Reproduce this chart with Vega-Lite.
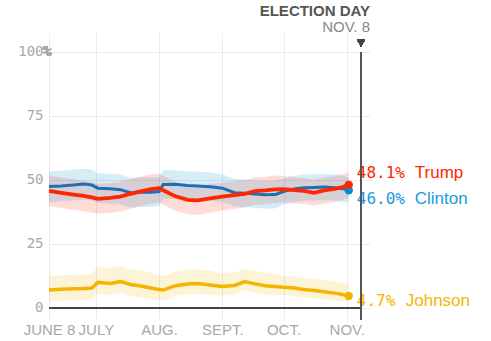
{
  "$schema": "https://vega.github.io/schema/vega-lite/v6.json",
  "autosize": "none",
  "padding": {"left": 49, "top": 33, "right": 121, "bottom": 21},
  "width": 321,
  "height": 287,
  "background": "white",
  "title": {
    "text": "ELECTION DAY",
    "subtitle": "NOV. 8",
    "anchor": "end",
    "frame": "group",
    "orient": "top",
    "offset": -2,
    "font": "Liberation Sans",
    "fontSize": 15,
    "fontWeight": "bold",
    "color": "#555555",
    "subtitleFont": "Liberation Sans",
    "subtitleFontSize": 15,
    "subtitleColor": "#888888",
    "subtitlePadding": 1
  },
  "config": {"view": {"stroke": null}},
  "data": {
    "format": {"parse": {"d": "date:'%Y-%m-%d'"}},
    "values": [
      {"d":"2016-06-08","c":"Trump","v":45.7,"lo":39.7,"hi":51.7},
      {"d":"2016-06-14","c":"Trump","v":45.0,"lo":39.0,"hi":51.0},
      {"d":"2016-06-20","c":"Trump","v":44.3,"lo":38.3,"hi":50.3},
      {"d":"2016-06-25","c":"Trump","v":43.8,"lo":37.8,"hi":49.8},
      {"d":"2016-06-29","c":"Trump","v":43.2,"lo":37.2,"hi":49.2},
      {"d":"2016-07-02","c":"Trump","v":42.6,"lo":36.8,"hi":48.4},
      {"d":"2016-07-08","c":"Trump","v":43.0,"lo":37.2,"hi":48.8},
      {"d":"2016-07-13","c":"Trump","v":43.5,"lo":37.7,"hi":49.3},
      {"d":"2016-07-18","c":"Trump","v":44.6,"lo":38.8,"hi":50.4},
      {"d":"2016-07-23","c":"Trump","v":45.5,"lo":39.7,"hi":51.3},
      {"d":"2016-07-28","c":"Trump","v":46.4,"lo":40.6,"hi":52.2},
      {"d":"2016-08-01","c":"Trump","v":46.8,"lo":41.2,"hi":52.4},
      {"d":"2016-08-03","c":"Trump","v":46.0,"lo":40.4,"hi":51.6},
      {"d":"2016-08-09","c":"Trump","v":43.6,"lo":38.0,"hi":49.2},
      {"d":"2016-08-15","c":"Trump","v":42.2,"lo":36.6,"hi":47.8},
      {"d":"2016-08-20","c":"Trump","v":42.0,"lo":36.4,"hi":47.6},
      {"d":"2016-08-26","c":"Trump","v":42.8,"lo":37.2,"hi":48.4},
      {"d":"2016-09-01","c":"Trump","v":43.5,"lo":38.1,"hi":48.9},
      {"d":"2016-09-07","c":"Trump","v":44.1,"lo":38.7,"hi":49.5},
      {"d":"2016-09-12","c":"Trump","v":44.6,"lo":39.2,"hi":50.0},
      {"d":"2016-09-17","c":"Trump","v":45.6,"lo":40.2,"hi":51.0},
      {"d":"2016-09-22","c":"Trump","v":45.9,"lo":40.5,"hi":51.3},
      {"d":"2016-09-27","c":"Trump","v":46.3,"lo":40.9,"hi":51.7},
      {"d":"2016-10-01","c":"Trump","v":46.4,"lo":41.3,"hi":51.5},
      {"d":"2016-10-06","c":"Trump","v":46.0,"lo":40.9,"hi":51.1},
      {"d":"2016-10-11","c":"Trump","v":45.7,"lo":40.6,"hi":50.8},
      {"d":"2016-10-16","c":"Trump","v":45.0,"lo":39.9,"hi":50.1},
      {"d":"2016-10-21","c":"Trump","v":45.9,"lo":40.8,"hi":51.0},
      {"d":"2016-10-26","c":"Trump","v":46.5,"lo":41.4,"hi":51.6},
      {"d":"2016-10-30","c":"Trump","v":47.2,"lo":42.1,"hi":52.3},
      {"d":"2016-11-02","c":"Trump","v":48.1,"lo":43.3,"hi":52.9,"last":true},
      {"d":"2016-06-08","c":"Clinton","v":47.4,"lo":41.4,"hi":53.4},
      {"d":"2016-06-14","c":"Clinton","v":47.6,"lo":41.6,"hi":53.6},
      {"d":"2016-06-20","c":"Clinton","v":48.0,"lo":42.0,"hi":54.0},
      {"d":"2016-06-25","c":"Clinton","v":48.4,"lo":42.4,"hi":54.4},
      {"d":"2016-06-29","c":"Clinton","v":48.0,"lo":42.0,"hi":54.0},
      {"d":"2016-07-02","c":"Clinton","v":46.8,"lo":41.0,"hi":52.6},
      {"d":"2016-07-08","c":"Clinton","v":46.6,"lo":40.8,"hi":52.4},
      {"d":"2016-07-13","c":"Clinton","v":46.2,"lo":40.4,"hi":52.0},
      {"d":"2016-07-18","c":"Clinton","v":45.0,"lo":39.2,"hi":50.8},
      {"d":"2016-07-23","c":"Clinton","v":45.3,"lo":39.5,"hi":51.1},
      {"d":"2016-07-28","c":"Clinton","v":45.2,"lo":39.4,"hi":51.0},
      {"d":"2016-08-01","c":"Clinton","v":45.5,"lo":39.9,"hi":51.1},
      {"d":"2016-08-03","c":"Clinton","v":48.2,"lo":42.6,"hi":53.8},
      {"d":"2016-08-09","c":"Clinton","v":48.3,"lo":42.7,"hi":53.9},
      {"d":"2016-08-15","c":"Clinton","v":47.8,"lo":42.2,"hi":53.4},
      {"d":"2016-08-20","c":"Clinton","v":47.6,"lo":42.0,"hi":53.2},
      {"d":"2016-08-26","c":"Clinton","v":47.3,"lo":41.7,"hi":52.9},
      {"d":"2016-09-01","c":"Clinton","v":46.8,"lo":41.4,"hi":52.2},
      {"d":"2016-09-07","c":"Clinton","v":45.0,"lo":39.6,"hi":50.4},
      {"d":"2016-09-12","c":"Clinton","v":44.8,"lo":39.4,"hi":50.2},
      {"d":"2016-09-17","c":"Clinton","v":44.5,"lo":39.1,"hi":49.9},
      {"d":"2016-09-22","c":"Clinton","v":44.2,"lo":38.8,"hi":49.6},
      {"d":"2016-09-27","c":"Clinton","v":44.3,"lo":38.9,"hi":49.7},
      {"d":"2016-10-01","c":"Clinton","v":45.5,"lo":40.4,"hi":50.6},
      {"d":"2016-10-06","c":"Clinton","v":46.5,"lo":41.4,"hi":51.6},
      {"d":"2016-10-11","c":"Clinton","v":47.0,"lo":41.9,"hi":52.1},
      {"d":"2016-10-16","c":"Clinton","v":47.1,"lo":42.0,"hi":52.2},
      {"d":"2016-10-21","c":"Clinton","v":47.2,"lo":42.1,"hi":52.3},
      {"d":"2016-10-26","c":"Clinton","v":47.0,"lo":41.9,"hi":52.1},
      {"d":"2016-10-30","c":"Clinton","v":46.6,"lo":41.5,"hi":51.7},
      {"d":"2016-11-02","c":"Clinton","v":46.0,"lo":41.2,"hi":50.8,"last":true},
      {"d":"2016-06-08","c":"Johnson","v":7.0,"lo":2.5,"hi":12.5},
      {"d":"2016-06-14","c":"Johnson","v":7.3,"lo":2.8,"hi":12.8},
      {"d":"2016-06-20","c":"Johnson","v":7.5,"lo":3.0,"hi":13.0},
      {"d":"2016-06-25","c":"Johnson","v":7.6,"lo":3.1,"hi":13.1},
      {"d":"2016-06-29","c":"Johnson","v":7.8,"lo":3.3,"hi":13.3},
      {"d":"2016-07-02","c":"Johnson","v":10.0,"lo":5.5,"hi":16.0},
      {"d":"2016-07-08","c":"Johnson","v":9.6,"lo":5.1,"hi":15.6},
      {"d":"2016-07-13","c":"Johnson","v":10.3,"lo":5.8,"hi":16.3},
      {"d":"2016-07-18","c":"Johnson","v":9.2,"lo":4.7,"hi":15.2},
      {"d":"2016-07-23","c":"Johnson","v":8.6,"lo":4.1,"hi":14.6},
      {"d":"2016-07-28","c":"Johnson","v":7.8,"lo":3.3,"hi":13.8},
      {"d":"2016-08-01","c":"Johnson","v":7.2,"lo":3.2,"hi":12.7},
      {"d":"2016-08-03","c":"Johnson","v":7.0,"lo":3.0,"hi":12.5},
      {"d":"2016-08-09","c":"Johnson","v":8.7,"lo":4.7,"hi":14.2},
      {"d":"2016-08-15","c":"Johnson","v":9.4,"lo":5.4,"hi":14.9},
      {"d":"2016-08-20","c":"Johnson","v":9.6,"lo":5.6,"hi":15.1},
      {"d":"2016-08-26","c":"Johnson","v":9.0,"lo":5.0,"hi":14.5},
      {"d":"2016-09-01","c":"Johnson","v":8.4,"lo":4.9,"hi":13.4},
      {"d":"2016-09-07","c":"Johnson","v":8.8,"lo":5.3,"hi":13.8},
      {"d":"2016-09-12","c":"Johnson","v":10.3,"lo":6.8,"hi":15.3},
      {"d":"2016-09-17","c":"Johnson","v":9.4,"lo":5.9,"hi":14.4},
      {"d":"2016-09-22","c":"Johnson","v":8.7,"lo":5.2,"hi":13.7},
      {"d":"2016-09-27","c":"Johnson","v":8.4,"lo":4.9,"hi":13.4},
      {"d":"2016-10-01","c":"Johnson","v":8.1,"lo":5.1,"hi":12.6},
      {"d":"2016-10-06","c":"Johnson","v":7.8,"lo":4.8,"hi":12.3},
      {"d":"2016-10-11","c":"Johnson","v":7.2,"lo":4.2,"hi":11.7},
      {"d":"2016-10-16","c":"Johnson","v":6.8,"lo":3.8,"hi":11.3},
      {"d":"2016-10-21","c":"Johnson","v":6.3,"lo":3.3,"hi":10.8},
      {"d":"2016-10-26","c":"Johnson","v":5.8,"lo":2.8,"hi":10.3},
      {"d":"2016-10-30","c":"Johnson","v":5.3,"lo":2.6,"hi":9.7},
      {"d":"2016-11-02","c":"Johnson","v":4.7,"lo":2.4,"hi":9.0,"last":true}
    ]
  },
  "encoding": {
    "x": {
      "field": "d", "type": "temporal",
      "scale": {"domain": [{"year": 2016, "month": 6, "date": 8}, {"year": 2016, "month": 11, "date": 12, "hours": 10}]},
      "axis": {
        "title": null,
        "values": [
          {"year": 2016, "month": 6, "date": 8},
          {"year": 2016, "month": 7, "date": 1},
          {"year": 2016, "month": 8, "date": 1},
          {"year": 2016, "month": 9, "date": 1},
          {"year": 2016, "month": 10, "date": 1},
          {"year": 2016, "month": 11, "date": 1}
        ],
        "labelExpr": "month(datum.value) == 5 ? 'JUNE 8' : month(datum.value) == 6 ? 'JULY' : month(datum.value) == 7 ? 'AUG.' : month(datum.value) == 8 ? 'SEPT.' : month(datum.value) == 9 ? 'OCT.' : 'NOV.'",
        "grid": true, "gridColor": "#ebebeb", "gridWidth": 1,
        "ticks": false, "domain": false,
        "labelFont": "Liberation Sans", "labelFontSize": 15, "labelColor": "#a8a8a8",
        "labelPadding": 2, "labelFlush": false, "labelOverlap": false,
        "encode": {"labels": {"update": {"dx": {"signal": "month(datum.value) == 5 ? -8 : month(datum.value) == 6 ? -7 : 0"}}}}
      }
    }
  },
  "layer": [
    {
      "mark": {"type": "area", "opacity": 0.16, "interpolate": "linear"},
      "encoding": {
        "y": {
          "field": "lo", "type": "quantitative",
          "scale": {"domain": [-4.7, 107.4], "nice": false, "zero": false},
          "axis": {
            "title": null, "values": [0, 25, 50, 75, 100],
            "labelExpr": "datum.value == 100 ? '100' : datum.label",
            "grid": true, "gridColor": "#ebebeb", "ticks": false, "domain": false,
            "labelFont": "DejaVu Sans Mono", "labelFontSize": 14, "labelColor": "#a8a8a8",
            "labelPadding": 6
          }
        },
        "y2": {"field": "hi"},
        "color": {
          "field": "c", "type": "nominal", "legend": null,
          "scale": {"domain": ["Clinton", "Trump", "Johnson"], "range": ["#008fd5", "#ff2700", "#f5b400"]}
        }
      }
    },
    {
      "mark": {"type": "rule", "color": "#444444", "strokeWidth": 2},
      "encoding": {
        "x": {"datum": {"year": 2016, "month": 6, "date": 8}, "type": "temporal"},
        "x2": {"datum": {"year": 2016, "month": 11, "date": 8}},
        "y": {"datum": 0, "type": "quantitative"}
      }
    },
    {
      "transform": [{"filter": "datum.c == 'Clinton'"}],
      "mark": {"type": "line", "color": "#1e70b4", "strokeWidth": 3},
      "encoding": {"y": {"field": "v", "type": "quantitative"}}
    },
    {
      "transform": [{"filter": "datum.c == 'Johnson'"}],
      "mark": {"type": "line", "color": "#f5b400", "strokeWidth": 3.5},
      "encoding": {"y": {"field": "v", "type": "quantitative"}}
    },
    {
      "transform": [{"filter": "datum.c == 'Trump'"}],
      "mark": {"type": "line", "color": "#ff2700", "strokeWidth": 3.8},
      "encoding": {"y": {"field": "v", "type": "quantitative"}}
    },
    {
      "transform": [{"filter": "datum.last"}],
      "mark": {"type": "circle", "size": 70, "opacity": 1},
      "encoding": {
        "y": {"field": "v", "type": "quantitative"},
        "color": {"field": "c", "type": "nominal", "legend": null},
        "order": {"field": "v", "type": "quantitative", "sort": "ascending"}
      }
    },
    {
      "transform": [{"filter": "datum.last && datum.c == 'Trump'"}, {"calculate": "format(datum.v, '.1f') + '%'", "as": "pct"}],
      "mark": {"type": "text", "align": "left", "baseline": "middle", "dx": 8, "dy": -12, "font": "DejaVu Sans Mono", "fontSize": 16, "color": "#ff2700"},
      "encoding": {"y": {"field": "v", "type": "quantitative"}, "text": {"field": "pct"}}
    },
    {
      "transform": [{"filter": "datum.last && datum.c == 'Trump'"}],
      "mark": {"type": "text", "align": "left", "baseline": "middle", "dx": 66, "dy": -12, "font": "Liberation Sans", "fontSize": 17, "color": "#ff2700"},
      "encoding": {"y": {"field": "v", "type": "quantitative"}, "text": {"field": "c"}}
    },
    {
      "transform": [{"filter": "datum.last && datum.c == 'Clinton'"}, {"calculate": "format(datum.v, '.1f') + '%'", "as": "pct"}],
      "mark": {"type": "text", "align": "left", "baseline": "middle", "dx": 8, "dy": 9, "font": "DejaVu Sans Mono", "fontSize": 16, "color": "#1a9ad9"},
      "encoding": {"y": {"field": "v", "type": "quantitative"}, "text": {"field": "pct"}}
    },
    {
      "transform": [{"filter": "datum.last && datum.c == 'Clinton'"}],
      "mark": {"type": "text", "align": "left", "baseline": "middle", "dx": 66, "dy": 9, "font": "Liberation Sans", "fontSize": 17, "color": "#1a9ad9"},
      "encoding": {"y": {"field": "v", "type": "quantitative"}, "text": {"field": "c"}}
    },
    {
      "transform": [{"filter": "datum.last && datum.c == 'Johnson'"}, {"calculate": "format(datum.v, '.1f') + '%'", "as": "pct"}],
      "mark": {"type": "text", "align": "left", "baseline": "middle", "dx": 8, "dy": 5, "font": "DejaVu Sans Mono", "fontSize": 16, "color": "#f5b400"},
      "encoding": {"y": {"field": "v", "type": "quantitative"}, "text": {"field": "pct"}}
    },
    {
      "transform": [{"filter": "datum.last && datum.c == 'Johnson'"}],
      "mark": {"type": "text", "align": "left", "baseline": "middle", "dx": 57, "dy": 5, "font": "Liberation Sans", "fontSize": 17, "color": "#f5b400"},
      "encoding": {"y": {"field": "v", "type": "quantitative"}, "text": {"field": "c"}}
    },
    {
      "mark": {"type": "rule", "color": "#555555", "strokeWidth": 1.5},
      "encoding": {
        "x": {"datum": {"year": 2016, "month": 11, "date": 8}, "type": "temporal"},
        "y": {"datum": 100, "type": "quantitative"},
        "y2": {"datum": -4.7}
      }
    },
    {
      "mark": {"type": "point", "shape": "triangle-down", "filled": true, "color": "#444444", "size": 60, "opacity": 1},
      "encoding": {
        "x": {"datum": {"year": 2016, "month": 11, "date": 8}, "type": "temporal"},
        "y": {"datum": 103.5, "type": "quantitative"}
      }
    },
    {
      "mark": {"type": "text", "align": "left", "baseline": "middle", "dx": -6, "font": "DejaVu Sans Mono", "fontSize": 14, "color": "#a8a8a8", "text": "%"},
      "encoding": {
        "x": {"datum": {"year": 2016, "month": 6, "date": 8}, "type": "temporal"},
        "y": {"datum": 100, "type": "quantitative"}
      }
    }
  ]
}
